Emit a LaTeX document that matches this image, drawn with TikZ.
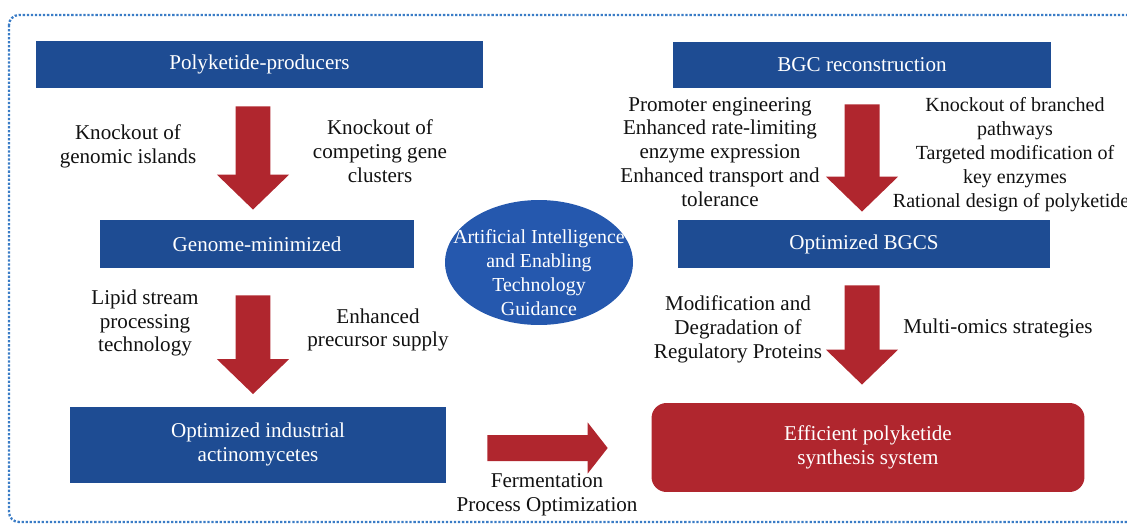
\documentclass[tikz,border=0pt]{standalone}
\usepackage{fontspec}
\setmainfont{Liberation Serif}
\usetikzlibrary{arrows.meta,shapes.geometric}
\definecolor{BoxBlue}{HTML}{1E4C93}
\definecolor{OvalBlue}{HTML}{2558AE}
\definecolor{FatRed}{HTML}{B0262E}
\definecolor{Frame}{HTML}{3A7CC6}
\definecolor{Ink}{HTML}{111111}
\tikzset{
 stage/.style={fill=BoxBlue, text=white, minimum height=0.94cm, align=center, inner sep=2pt, font=\fontsize{12}{13.6}\selectfont},
 goal/.style={stage, fill=FatRed, rounded corners=0.3cm},
 note/.style={text=Ink, align=center, inner sep=0pt, font=\fontsize{12}{13.6}\selectfont},
 fatarrow/.style={draw=FatRed, line width=0.7cm, -{Triangle[width=1.4cm,length=0.7cm]}},
 sidearrow/.style={draw=FatRed, line width=0.52cm, -{Triangle[width=1.0cm,length=0.4cm]}}
}
\begin{document}
\begin{tikzpicture}[x=0.02cm,y=-0.02cm]
\useasboundingbox (0,0) rectangle (1127,525);
\draw[Frame, densely dotted, line width=1.3pt, rounded corners=0.2cm] (9,15) rectangle (1140,522);

\node[stage,minimum width=8.94cm,minimum height=0.94cm] (prod) at (259.5,64.5) {Polyketide-producers};
\node[stage,minimum width=6.3cm,minimum height=0.96cm] (gmin) at (257,244) {Genome-minimized};
\node[stage,minimum width=7.54cm,minimum height=1.52cm] (ind) at (258,444.5) {Optimized industrial\\actinomycetes};
\node[stage,minimum width=7.56cm,minimum height=0.92cm] (bgc) at (862,65) {BGC reconstruction};
\node[stage,minimum width=7.44cm,minimum height=0.96cm] (obgc) at (864,244) {Optimized BGCS};
\node[goal,minimum width=8.66cm,minimum height=1.78cm] (eff) at (868,447.5) {Efficient polyketide\\synthesis system};
\node[ellipse,fill=OvalBlue,minimum width=3.76cm,minimum height=2.5cm,inner sep=0pt] (ai) at (539,262.5) {};
\node[text=white,align=center,inner sep=0pt,font=\fontsize{11.3}{13.6}\selectfont] (aitxt) at ([yshift=-0.2cm]ai.center) {Artificial Intelligence\\and Enabling\\Technology\\Guidance};

\node[note] (kgi) at (128,146.5) {Knockout of\\genomic islands};
\node[note] (kcg) at (380,151) {Knockout of\\competing gene\\clusters};
\node[note] (lip) at (145,323) {Lipid stream\\processing\\technology};
\node[note] (pre) at (378,330) {Enhanced\\precursor supply};
\node[note] (pro) at (720,152) {Promoter engineering\\Enhanced rate-limiting\\enzyme expression\\Enhanced transport and\\tolerance};
\node[note,font=\fontsize{11.4}{13.6}\selectfont] (kbp) at (1015,154.5) {Knockout of branched\\pathways\\Targeted modification of\\key enzymes\\Rational design of polyketides};
\node[note] (mod) at (738,329) {Modification and\\Degradation of\\Regulatory Proteins};
\node[note] (mul) at (998,328) {Multi-omics strategies};
\node[note] (fer) at (547,495) {Fermentation\\Process Optimization};

\draw[fatarrow] ([xshift=-0.13cm,yshift=-0.36cm]prod.south) -- ([xshift=-0.08cm,yshift=0.2cm]gmin.north);
\draw[fatarrow] ([xshift=-0.08cm,yshift=-0.54cm]gmin.south) -- ([xshift=-0.1cm,yshift=0.24cm]ind.north);
\draw[fatarrow] ([yshift=-0.32cm]bgc.south) -- ([xshift=-0.04cm,yshift=0.16cm]obgc.north);
\draw[fatarrow] ([xshift=-0.04cm,yshift=-0.34cm]obgc.south) -- ([xshift=-0.12cm,yshift=0.36cm]eff.north);
\draw[sidearrow] ([xshift=0.81cm,yshift=-0.07cm]ind.east) -- ([xshift=-0.87cm,yshift=-0.01cm]eff.west);
\end{tikzpicture}
\end{document}
